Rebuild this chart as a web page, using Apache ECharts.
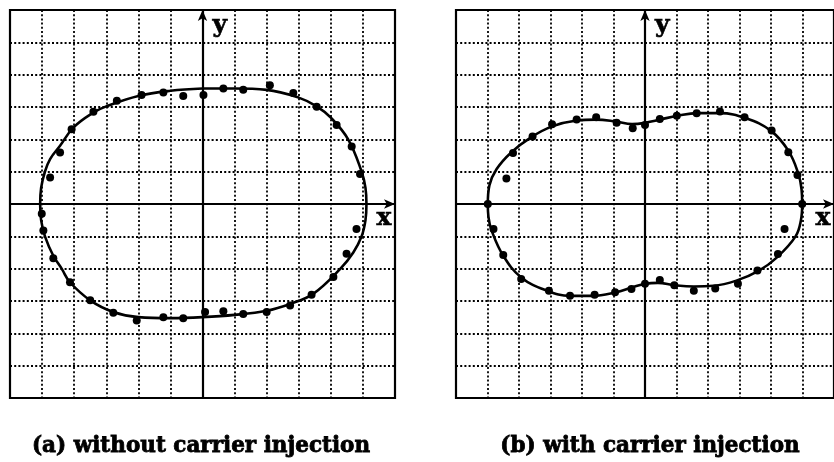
<!DOCTYPE html>
<html>
<head>
<meta charset="utf-8">
<script src="https://cdn.jsdelivr.net/npm/echarts@6/dist/echarts.min.js"></script>
<style>
  html, body { margin: 0; padding: 0; background: #fff; }
  #chart { width: 834px; height: 462px; }
</style>
</head>
<body>
<div id="chart"></div>
<script>
// Axis range in grid units (12 x 12 cells, origin at centre)
const axisMin = -6;
const axisMax = 6;
const axisStep = 1;

// (a) without carrier injection: fitted loop (starts and ends at the top) and measured points
const curveA = [
  [0, 3.57], [1, 3.57], [2, 3.53], [3, 3.29], [3.56, 3.02], [4, 2.67],
  [4.54, 2], [4.96, 1], [5.08, 0.5], [5.11, 0], [5.08, -0.5], [4.96, -1],
  [4.7, -1.5], [4.3, -2], [3.45, -2.78], [2.73, -3.09], [2, -3.3], [1, -3.43],
  [0, -3.5], [-1, -3.53], [-2, -3.5], [-2.78, -3.34], [-3.5, -2.98],
  [-4.13, -2.42], [-4.39, -2], [-4.65, -1.6], [-4.91, -1], [-5.03, -0.5],
  [-5.06, 0], [-5.03, 0.5], [-4.91, 1], [-4.75, 1.39], [-4.44, 1.8],
  [-4.02, 2.37], [-3.4, 2.83], [-3, 3.02], [-2, 3.34], [-1, 3.5], [0, 3.57]
];
const dotsA = [
  [-4.75, 0.82], [-4.44, 1.59], [-4.08, 2.31], [-3.40, 2.85], [-2.67, 3.19],
  [-1.90, 3.37], [-1.22, 3.45], [-0.60, 3.34], [0.03, 3.37], [0.65, 3.57],
  [1.27, 3.53], [2.10, 3.67], [2.83, 3.43], [3.56, 3.01], [4.18, 2.44],
  [4.65, 1.78], [4.91, 0.93], [4.80, -0.77], [4.49, -1.54], [4.08, -2.26],
  [3.40, -2.81], [2.73, -3.14], [2.00, -3.34], [1.27, -3.40], [0.65, -3.32],
  [0.08, -3.34], [-0.60, -3.53], [-1.22, -3.50], [-2.05, -3.60], [-2.78, -3.36],
  [-3.50, -2.98], [-4.13, -2.42], [-4.65, -1.68], [-4.96, -0.82], [-5.01, -0.30]
];

// (b) with carrier injection: fitted loop (starts and ends at the upper waist) and measured points
const curveB = [
  [0, 2.51], [0.47, 2.61], [1.04, 2.73], [1.66, 2.81], [2.38, 2.81],
  [3.21, 2.65], [3.99, 2.27], [4.55, 1.65], [4.87, 0.93], [4.97, 0.45], [4.99, 0],
  [4.95, -0.5], [4.78, -1.0], [4.19, -1.65], [3.62, -2.06], [2.90, -2.37],
  [2.17, -2.53], [1.55, -2.55], [0.93, -2.51], [0.41, -2.44], [0, -2.47],
  [-0.41, -2.58], [-0.93, -2.73], [-1.66, -2.84], [-2.38, -2.84], [-3.11, -2.68],
  [-3.93, -2.27], [-4.50, -1.60], [-4.87, -0.82], [-4.97, -0.4], [-4.99, 0],
  [-4.94, 0.57], [-4.71, 1.08], [-4.24, 1.60], [-3.62, 2.06], [-2.95, 2.40],
  [-2.17, 2.58], [-1.55, 2.61], [-0.93, 2.55], [-0.41, 2.47], [0, 2.51]
];
const dotsB = [
  [-4.40, 0.79], [-4.19, 1.58], [-3.57, 2.09], [-2.95, 2.47], [-2.17, 2.61],
  [-1.55, 2.68], [-0.90, 2.51], [-0.39, 2.34], [0, 2.44], [0.47, 2.63],
  [1.01, 2.73], [1.64, 2.81], [2.38, 2.86], [3.16, 2.68], [4.02, 2.27],
  [4.55, 1.60], [4.84, 0.90], [4.99, 0], [4.43, -0.77], [4.22, -1.55],
  [3.57, -2.06], [2.95, -2.47], [2.23, -2.61], [1.55, -2.68], [0.93, -2.51],
  [0.47, -2.35], [0, -2.47], [-0.43, -2.63], [-0.95, -2.73], [-1.60, -2.81],
  [-2.38, -2.84], [-3.05, -2.68], [-3.93, -2.32], [-4.50, -1.58], [-4.81, -0.77],
  [-4.99, 0]
];

const captions = ['(a) without carrier injection', '(b) with carrier injection'];
const axisNames = ['x', 'y'];

const serif = '"DejaVu Serif", "Liberation Serif", serif';
const ink = '#000';

const grids = [
  { left: 10, top: 10, width: 385, height: 388 },
  { left: 456, top: 10, width: 386, height: 388 }
];

const dotted = { color: ink, width: 1.8, type: [2, 2.2] };

function xAxisFor(i) {
  return {
    type: 'value', gridIndex: i, min: axisMin, max: axisMax, interval: axisStep,
    name: axisNames[0], nameLocation: 'end', nameGap: -11,
    nameTextStyle: {
      fontFamily: serif, fontWeight: 'bold', fontSize: 25, lineHeight: 25, color: ink,
      align: 'center', verticalAlign: 'top', padding: [2, 0, 0, 0],
      textBorderColor: ink, textBorderWidth: 0.6
    },
    axisLine: {
      show: true, onZero: true, symbol: ['none', 'arrow'], symbolSize: [7, 11],
      lineStyle: { color: ink, width: 2.2 }
    },
    axisTick: { show: false },
    axisLabel: { show: false },
    splitLine: { show: true, lineStyle: dotted }
  };
}

function yAxisFor(i) {
  return {
    type: 'value', gridIndex: i, min: axisMin, max: axisMax, interval: axisStep,
    name: axisNames[1], nameLocation: 'end', nameGap: -15,
    nameTextStyle: {
      fontFamily: serif, fontWeight: 'bold', fontSize: 25, color: ink,
      align: 'left', verticalAlign: 'middle', padding: [0, 0, 0, 10],
      textBorderColor: ink, textBorderWidth: 0.6
    },
    axisLine: {
      show: true, onZero: true, symbol: ['none', 'arrow'], symbolSize: [7, 11],
      lineStyle: { color: ink, width: 2.2 }
    },
    axisTick: { show: false },
    axisLabel: { show: false },
    splitLine: { show: true, lineStyle: dotted }
  };
}

function loopSeries(data, i) {
  return {
    type: 'line', xAxisIndex: i, yAxisIndex: i, data: data,
    smooth: 0.4, showSymbol: false, silent: true, z: 3,
    lineStyle: { color: ink, width: 2.6 }
  };
}

function pointSeries(data, i) {
  return {
    type: 'scatter', xAxisIndex: i, yAxisIndex: i, data: data,
    symbol: 'circle', symbolSize: 8, silent: true, z: 4,
    itemStyle: { color: ink, opacity: 1 }
  };
}

const chart = echarts.init(document.getElementById('chart'), null, { renderer: 'canvas' });

function caption(text, cx) {
  return {
    type: 'text', x: cx, y: 446,
    style: {
      text: text, fontFamily: serif, fontWeight: 'bold', fontSize: 21.5,
      align: 'center', verticalAlign: 'middle',
      fill: ink, stroke: ink, lineWidth: 0.8
    }
  };
}

chart.setOption({
  animation: false,
  backgroundColor: '#fff',
  grid: grids.map(g => Object.assign({
    show: true, borderColor: ink, borderWidth: 2.2, backgroundColor: 'transparent',
    containLabel: false
  }, g)),
  xAxis: [xAxisFor(0), xAxisFor(1)],
  yAxis: [yAxisFor(0), yAxisFor(1)],
  series: [
    loopSeries(curveA, 0), pointSeries(dotsA, 0),
    loopSeries(curveB, 1), pointSeries(dotsB, 1)
  ],
  graphic: [
    caption(captions[0], 201),
    caption(captions[1], 650)
  ]
});
</script>
</body>
</html>
